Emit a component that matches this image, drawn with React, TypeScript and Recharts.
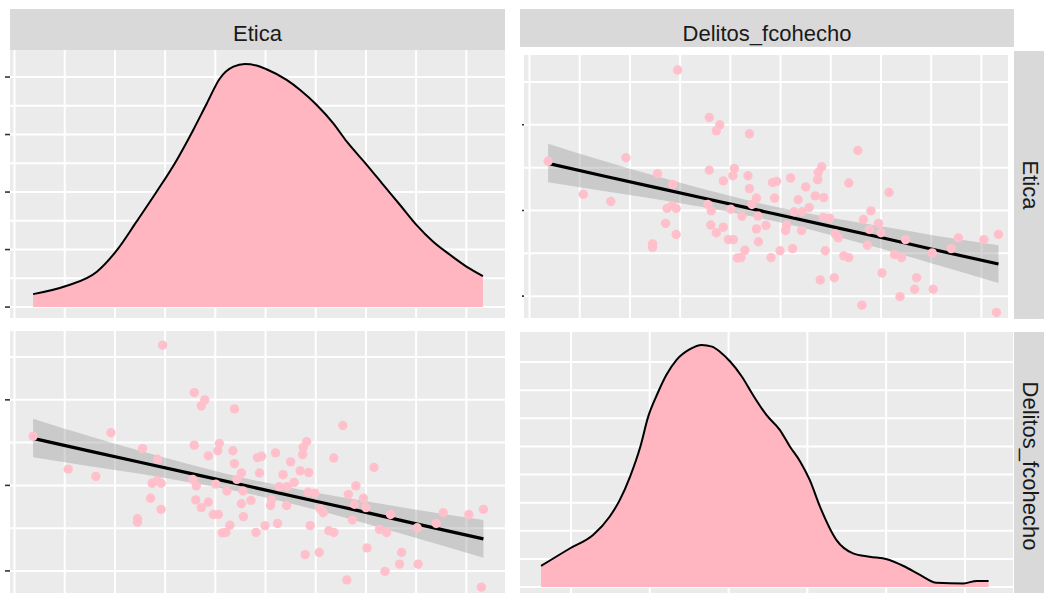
import React from 'react';
import { ComposedChart, Area, Line, Scatter, XAxis, YAxis, CartesianGrid } from 'recharts';

const FONT = '"Liberation Sans", Arial, Helvetica, sans-serif';
const PANEL_BG = '#EBEBEB';
const STRIP_BG = '#D9D9D9';
const TEXT = '#1A1A1A';

// Facet labels
const colLabels = ['Etica', 'Delitos_fcohecho'];
const rowLabels = ['Etica', 'Delitos_fcohecho'];

// Density of Etica (top-left diagonal panel)
const eticaDensX = [0.37, 1.04, 1.64, 2.04, 2.43, 2.83, 3.23, 3.56, 3.83, 4.09, 4.36, 4.59, 4.82, 5.02, 5.42, 5.69, 6.02, 6.35, 6.62, 7.02, 7.35, 7.68, 8.01, 8.34, 8.68, 9.01, 9.33];
const eticaDensY = [0.45, 0.74, 1.23, 1.98, 2.97, 4.01, 5.11, 6.16, 7.08, 7.95, 8.36, 8.45, 8.40, 8.27, 7.90, 7.55, 7.03, 6.39, 5.75, 4.94, 4.24, 3.55, 2.85, 2.27, 1.81, 1.40, 1.08];

// Density of Delitos_fcohecho (bottom-right diagonal panel)
const delitosDensX = [0.62, 0.99, 1.28, 1.49, 1.62, 1.75, 1.88, 1.98, 2.09, 2.21, 2.34, 2.51, 2.66, 2.79, 2.89, 3.02, 3.17, 3.31, 3.48, 3.65, 3.78, 3.91, 4.03, 4.16, 4.37, 4.58, 4.79, 5.01, 5.22, 5.43, 5.64, 5.98, 6.15, 6.30];
const delitosDensY = [0.75, 1.38, 1.85, 2.50, 3.10, 3.93, 4.99, 6.06, 6.83, 7.54, 8.08, 8.46, 8.61, 8.55, 8.37, 8.02, 7.48, 6.83, 6.12, 5.59, 4.99, 4.46, 3.81, 2.86, 1.67, 1.20, 1.08, 0.99, 0.75, 0.43, 0.15, 0.13, 0.22, 0.22];

// Scatter points (off-diagonal panels)
const scatterX = [2.95, 3.58, 3.79, 3.72, 4.38, 6.54, 0.37, 1.92, 3.58, 4.08, 4.05, 4.35, 2.55, 3.86, 5.82, 5.75, 5.74, 5.20, 4.84, 4.92, 6.36, 5.50, 4.38, 2.85, 7.16, 1.07, 1.62, 4.52, 4.88, 5.35, 5.69, 5.86, 2.74, 2.92, 2.84, 3.62, 3.55, 4.01, 4.43, 4.23, 5.57, 6.80, 4.55, 5.27, 5.43, 2.71, 3.61, 3.86, 3.72, 4.71, 5.10, 5.12, 4.52, 5.42, 5.85, 5.98, 6.65, 6.95, 2.92, 3.96, 4.06, 4.56, 6.09, 6.15, 6.77, 7.00, 7.49, 8.54, 9.05, 9.34, 2.45, 2.45, 4.29, 4.21, 4.14, 4.99, 5.24, 4.81, 5.89, 6.26, 6.36, 6.73, 7.27, 7.41, 8.02, 8.40, 7.02, 5.79, 6.07, 7.71, 7.67, 8.04, 7.38, 6.62, 9.30];
const scatterY = [5.28, 4.17, 4.00, 3.86, 3.79, 3.40, 3.15, 3.23, 2.94, 2.98, 2.81, 2.81, 2.86, 2.69, 3.02, 2.89, 2.72, 2.76, 2.65, 2.68, 2.64, 2.55, 2.51, 2.61, 2.42, 2.38, 2.21, 2.29, 2.29, 2.25, 2.34, 2.30, 2.05, 2.05, 2.11, 1.99, 2.14, 2.03, 2.14, 1.87, 2.07, 1.99, 1.87, 1.97, 1.97, 1.70, 1.66, 1.61, 1.48, 1.65, 1.53, 1.66, 1.57, 1.53, 1.84, 1.82, 1.79, 1.70, 1.44, 1.32, 1.32, 1.27, 1.45, 1.36, 1.56, 1.48, 1.32, 1.36, 1.32, 1.44, 1.22, 1.14, 1.07, 0.90, 0.89, 1.06, 1.11, 0.90, 1.06, 0.94, 0.90, 1.19, 0.97, 0.90, 1.01, 1.11, 0.54, 0.38, 0.43, 0.43, 0.16, 0.16, -0.01, -0.21, -0.38];

// Linear fit with confidence band
const fitX = [0.37, 1.5, 2.5, 3.5, 4.85, 6, 7, 8, 9.34];
const fitY = [3.10, 2.80, 2.54, 2.28, 1.93, 1.63, 1.37, 1.10, 0.75];
const fitLo = [2.66, 2.45, 2.27, 2.07, 1.76, 1.43, 1.11, 0.77, 0.31];
const fitHi = [3.56, 3.15, 2.81, 2.49, 2.10, 1.83, 1.63, 1.43, 1.19];

// Grid breaks
const wideGridX = [0, 1, 2, 3, 4, 5, 6, 7, 8, 9];
const eticaGridY = [0, 1, 2, 3, 4, 5, 6, 7, 8];
const eticaTicksY = [0, 2, 4, 6, 8];
const scatterGridY = [0, 1, 2, 3, 4, 5];
const scatterTicksY = [0, 2, 4];
const delitosGridX = [1, 2, 3, 4, 5, 6];
const delitosGridY = [0, 1, 2, 3, 4, 5, 6, 7, 8];

const eticaDens = eticaDensX.map((x, i) => ({ x, d: eticaDensY[i] }));
const delitosDens = delitosDensX.map((x, i) => ({ x, d: delitosDensY[i] }));
const points = scatterX.map((x, i) => ({ x, y: scatterY[i] }));
const fit = fitX.map((x, i) => ({ x, fit: fitY[i], lo: fitLo[i], hi: fitHi[i] }));

type Dom = [number, number];

const hGen = (gy: number[]) => (p: any) => {
  const s = p?.yAxis?.scale;
  if (!s) return [];
  return gy.map((v) => (typeof s === 'function' ? s(v) : s.map(v)));
};

function Grid({ gx, gy }: { gx: number[]; gy: number[] }) {
  return (
    <CartesianGrid
      fill={PANEL_BG}
      fillOpacity={1}
      stroke="#FFFFFF"
      strokeWidth={2}
      verticalValues={gx}
      horizontalValues={gy}
      horizontalCoordinatesGenerator={hGen(gy)}
    />
  );
}

function DensityPanel(props: {
  left: number; top: number; width: number; height: number;
  data: { x: number; d: number }[]; xDom: Dom; yDom: Dom;
  gx: number[]; gy: number[]; ticks?: number[]; axisW: number;
}) {
  const { left, top, width, height, data, xDom, yDom, gx, gy, ticks, axisW } = props;
  return (
    <div style={{ position: 'absolute', left, top, width, height }}>
      <ComposedChart width={width} height={height} margin={{ top: 0, right: 0, bottom: 0, left: 0 }}>
        <Grid gx={gx} gy={gy} />
        <XAxis type="number" dataKey="x" domain={xDom} allowDataOverflow hide />
        <YAxis
          type="number"
          domain={yDom}
          allowDataOverflow
          hide={!ticks}
          ticks={ticks}
          interval={0}
          width={axisW}
          tickFormatter={() => ''}
          axisLine={false}
          tickSize={5}
          tickLine={{ stroke: '#333333', strokeWidth: 1.6 }}
        />
        <Area
          data={data}
          dataKey="d"
          type="monotone"
          baseValue={0}
          fill="#FFB6C1"
          fillOpacity={1}
          stroke="#000000"
          strokeWidth={2}
          isAnimationActive={false}
          dot={false}
          activeDot={false}
        />
      </ComposedChart>
    </div>
  );
}

function ScatterPanel(props: {
  left: number; top: number; width: number; height: number;
  xDom: Dom; yDom: Dom; gx: number[]; gy: number[]; ticks: number[]; axisW: number; tickSize: number;
}) {
  const { left, top, width, height, xDom, yDom, gx, gy, ticks, axisW, tickSize } = props;
  return (
    <div style={{ position: 'absolute', left, top, width, height }}>
      <ComposedChart width={width} height={height} margin={{ top: 0, right: 0, bottom: 0, left: 0 }}>
        <Grid gx={gx} gy={gy} />
        <XAxis type="number" dataKey="x" domain={xDom} allowDataOverflow hide />
        <YAxis
          type="number"
          dataKey="y"
          domain={yDom}
          allowDataOverflow
          ticks={ticks}
          interval={0}
          width={axisW}
          tickFormatter={() => ''}
          axisLine={false}
          tickSize={tickSize}
          tickLine={{ stroke: '#333333', strokeWidth: 1.6 }}
        />
        <Scatter
          data={points}
          isAnimationActive={false}
          shape={(p: any) => <circle cx={p.cx} cy={p.cy} r={4.7} fill="#FFC0CB" />}
        />
        <Area
          data={fit}
          dataKey={(d: any) => [d.lo, d.hi]}
          type="monotone"
          stroke="none"
          fill="#999999"
          fillOpacity={0.4}
          isAnimationActive={false}
          dot={false}
          activeDot={false}
        />
        <Line
          data={fit}
          dataKey="fit"
          type="linear"
          stroke="#000000"
          strokeWidth={3.2}
          dot={false}
          activeDot={false}
          isAnimationActive={false}
        />
      </ComposedChart>
    </div>
  );
}

function TopStrip({ left, width, height, label }: { left: number; width: number; height: number; label: string }) {
  return (
    <div style={{ position: 'absolute', left, top: 9, width, height, background: STRIP_BG }}>
      <div style={{ position: 'absolute', left: 0, top: 14, width, height: 22, lineHeight: '22px', textAlign: 'center', fontFamily: FONT, fontSize: 22, color: TEXT, whiteSpace: 'nowrap' }}>
        {label}
      </div>
    </div>
  );
}

function RightStrip({ top, height, label }: { top: number; height: number; label: string }) {
  const cy = top + height / 2;
  return (
    <>
      <div style={{ position: 'absolute', left: 1014, top, width: 41, height, background: STRIP_BG }} />
      <div style={{ position: 'absolute', left: 1029.6 - height / 2, top: cy - 11, width: height, height: 22, lineHeight: '22px', textAlign: 'center', fontFamily: FONT, fontSize: 22, color: TEXT, whiteSpace: 'nowrap', transform: 'rotate(90deg)', transformOrigin: '50% 50%' }}>
        {label}
      </div>
    </>
  );
}

export default function App() {
  return (
    <div style={{ position: 'absolute', left: 0, top: 0, width: 1044, height: 593, overflow: 'hidden', background: '#FFFFFF' }}>
      <TopStrip left={10} width={495} height={41} label={colLabels[0]} />
      <TopStrip left={520} width={494} height={38} label={colLabels[1]} />
      <RightStrip top={51} height={268} label={rowLabels[0]} />
      <RightStrip top={332} height={268} label={rowLabels[1]} />

      <DensityPanel left={0} top={50} width={505} height={268} data={eticaDens}
        xDom={[-0.09, 9.77]} yDom={[-0.38, 8.94]} gx={wideGridX} gy={eticaGridY} ticks={eticaTicksY} axisW={10} />

      <ScatterPanel left={514} top={55} width={494} height={263}
        xDom={[-0.11, 9.53]} yDom={[-0.51, 5.63]} gx={wideGridX} gy={scatterGridY} ticks={scatterTicksY} axisW={10} tickSize={2} />

      <ScatterPanel left={0} top={331} width={505} height={269}
        xDom={[-0.09, 9.77]} yDom={[-0.68, 5.61]} gx={wideGridX} gy={scatterGridY} ticks={scatterTicksY} axisW={10} tickSize={5} />

      <DensityPanel left={520} top={332} width={493} height={268} data={delitosDens}
        xDom={[0.353, 6.61]} yDom={[-0.46, 9.07]} gx={delitosGridX} gy={delitosGridY} axisW={0} />
    </div>
  );
}
